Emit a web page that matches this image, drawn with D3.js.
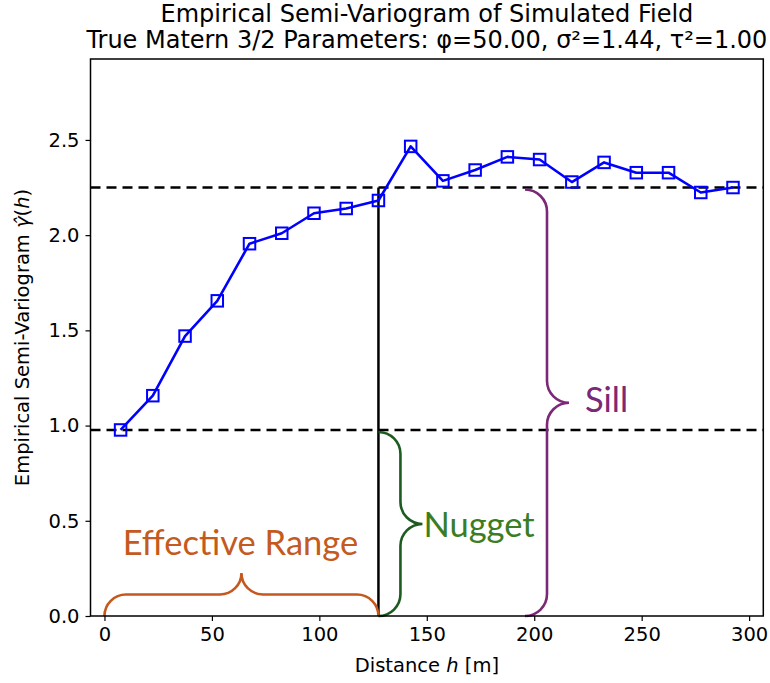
<!DOCTYPE html>
<html>
<head>
<meta charset="utf-8">
<script src="https://cdn.jsdelivr.net/npm/d3@7"></script>
<style>
  html, body { margin: 0; padding: 0; background: #fff; }
  svg { display: block; }
  .tick text { font-family: "DejaVu Sans", sans-serif; font-size: 19.5px; fill: #000; }
</style>
</head>
<body>
<svg id="chart" width="770" height="683"></svg>
<script>
// ---- data ----
const distances = [7.5, 22.5, 37.5, 52.5, 67.5, 82.5, 97.5, 112.5, 127.5, 142.5,
                   157.5, 172.5, 187.5, 202.5, 217.5, 232.5, 247.5, 262.5, 277.5, 292.5];
const gammaHat = [0.977, 1.157, 1.47, 1.655, 1.955, 2.01, 2.115, 2.14, 2.182, 2.466,
                  2.285, 2.342, 2.411, 2.397, 2.279, 2.382, 2.328, 2.328, 2.224, 2.25];
const sillLevel = 2.25;
const nuggetLevel = 0.977;
const effectiveRange = 127.5;
const xTicks = [0, 50, 100, 150, 200, 250, 300];
const yTicks = [0.0, 0.5, 1.0, 1.5, 2.0, 2.5];
const titleLines = ["Empirical Semi-Variogram of Simulated Field",
                    "True Matern 3/2 Parameters: \u03c6=50.00, \u03c3\u00b2=1.44, \u03c4\u00b2=1.00"];

// ---- layout ----
const svg = d3.select("#chart");
const L = 90.5, R = 763.3, T = 59, B = 616;
const x = d3.scaleLinear().domain([-6.5, 306.6]).range([L, R]);
const y = d3.scaleLinear().domain([0, 2.925]).range([B, T]);

// axes
const xAxis = svg.append("g").attr("transform", `translate(0,${B})`)
  .call(d3.axisBottom(x).tickValues(xTicks).tickFormat(d3.format("d")).tickSize(5).tickPadding(6));
const yAxis = svg.append("g").attr("transform", `translate(${L},0)`)
  .call(d3.axisLeft(y).tickValues(yTicks).tickFormat(d3.format(".1f")).tickSize(5).tickPadding(6));
[xAxis, yAxis].forEach(g => {
  g.select(".domain").remove();
  g.selectAll(".tick line").attr("stroke", "#000").attr("stroke-width", 1.2);
});

// reference lines
const refs = svg.append("g");
[sillLevel, nuggetLevel].forEach(v => {
  refs.append("line")
    .attr("x1", L).attr("x2", R).attr("y1", y(v)).attr("y2", y(v))
    .attr("stroke", "#000").attr("stroke-width", 2.6).attr("stroke-dasharray", "10,6");
});
refs.append("line")
  .attr("x1", x(effectiveRange)).attr("x2", x(effectiveRange))
  .attr("y1", y(0)).attr("y2", y(sillLevel))
  .attr("stroke", "#000").attr("stroke-width", 2.5);

// braces
function vBrace(x0, yTop, yBot, w) {
  const r = w / 2, ym = (yTop + yBot) / 2;
  return `M${x0},${yTop} A${r},${r} 0 0 1 ${x0 + r},${yTop + r} L${x0 + r},${ym - r}` +
         ` A${r},${r} 0 0 0 ${x0 + 2 * r},${ym} A${r},${r} 0 0 0 ${x0 + r},${ym + r}` +
         ` L${x0 + r},${yBot - r} A${r},${r} 0 0 1 ${x0},${yBot}`;
}
function hBrace(y0, xl, xr, h) {
  const r = h / 2, xm = (xl + xr) / 2;
  return `M${xl},${y0} A${r},${r} 0 0 1 ${xl + r},${y0 - r} L${xm - r},${y0 - r}` +
         ` A${r},${r} 0 0 0 ${xm},${y0 - 2 * r} A${r},${r} 0 0 0 ${xm + r},${y0 - r}` +
         ` L${xr - r},${y0 - r} A${r},${r} 0 0 1 ${xr},${y0}`;
}
const br = svg.append("g").attr("fill", "none").attr("stroke-width", 2.6);
br.append("path").attr("d", hBrace(y(0), x(0), x(effectiveRange), 43)).attr("stroke", "#c5581c");
br.append("path").attr("d", vBrace(x(effectiveRange), y(nuggetLevel) + 2, y(0), 44)).attr("stroke", "#1d5c20");
br.append("path").attr("d", vBrace(x(195.7), y(sillLevel) + 2, y(0), 44)).attr("stroke", "#7b2877");

// annotation labels
const ann = svg.append("g").attr("font-family", "Lato, 'Open Sans', sans-serif").attr("font-size", 34.5);
ann.append("text").attr("x", x(effectiveRange / 2) - 1).attr("y", 555).attr("text-anchor", "middle")
  .attr("fill", "#c55a1e").text("Effective Range");
ann.append("text").attr("x", x(effectiveRange) + 45).attr("y", 537)
  .attr("fill", "#3b7d24").text("Nugget");
ann.append("text").attr("x", x(195.7) + 60).attr("y", 412)
  .attr("fill", "#7b2877").text("Sill");

// data series
const line = d3.line().x((d, i) => x(distances[i])).y(d => y(d));
svg.append("path").datum(gammaHat).attr("d", line)
  .attr("fill", "none").attr("stroke", "#0000ff").attr("stroke-width", 2.6).attr("stroke-linejoin", "round");
svg.append("g").selectAll("rect").data(gammaHat).join("rect")
  .attr("x", (d, i) => x(distances[i]) - 5.75).attr("y", d => y(d) - 5.75)
  .attr("width", 11.5).attr("height", 11.5)
  .attr("fill", "none").attr("stroke", "#0000ff").attr("stroke-width", 2);

// frame
svg.append("rect").attr("x", L).attr("y", T).attr("width", R - L).attr("height", B - T)
  .attr("fill", "none").attr("stroke", "#000").attr("stroke-width", 1.5);

// titles
const cx = (L + R) / 2;
const title = svg.append("g").attr("font-family", "'DejaVu Sans', sans-serif").attr("font-size", 24)
  .attr("text-anchor", "middle").attr("fill", "#000");
title.append("text").attr("x", cx).attr("y", 22).text(titleLines[0]);
title.append("text").attr("x", cx).attr("y", 48).text(titleLines[1]);

// axis labels
const xl = svg.append("text").attr("x", cx).attr("y", 672).attr("text-anchor", "middle")
  .attr("font-family", "'DejaVu Sans', sans-serif").attr("font-size", 19.5);
xl.append("tspan").text("Distance ");
xl.append("tspan").attr("font-style", "italic").text("h");
xl.append("tspan").text(" [m]");

const yl = svg.append("text").attr("transform", `translate(29,${(T + B) / 2}) rotate(-90)`)
  .attr("text-anchor", "middle").attr("font-family", "'DejaVu Sans', sans-serif").attr("font-size", 19.5);
yl.append("tspan").text("Empirical Semi-Variogram ");
yl.append("tspan").attr("font-style", "italic").text("\u03b3\u0302");
yl.append("tspan").text("(");
yl.append("tspan").attr("font-style", "italic").text("h");
yl.append("tspan").text(")");
</script>
</body>
</html>
